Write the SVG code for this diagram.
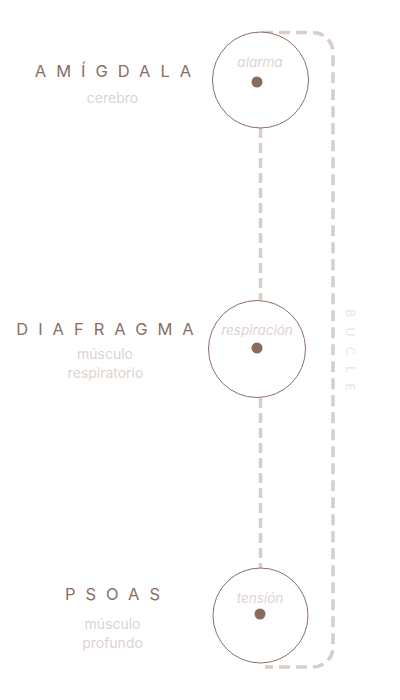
<svg xmlns="http://www.w3.org/2000/svg" width="400" height="700" viewBox="0 0 400 700">
<style>
.title{font-family:Inter,"DejaVu Sans",sans-serif;font-size:16.5px;fill:#8b6e63;letter-spacing:10px;text-anchor:middle}
.sub{font-family:Inter,"DejaVu Sans",sans-serif;font-size:14px;fill:#ddd3cd;text-anchor:middle}
.tag{font-family:Inter,"DejaVu Sans",sans-serif;font-size:13.5px;font-style:italic;fill:#ddd3cd;text-anchor:middle}
.ring{fill:#fff;stroke:#8b6e63;stroke-width:1}
.dot{fill:#8b6b5e}
.dash{fill:none;stroke:#d8cdc7;stroke-width:3.5;stroke-dasharray:10 5}
.loop{fill:none;stroke:#d8cdc7;stroke-width:3.5;stroke-dasharray:11 6}
.side{font-family:Inter,"DejaVu Sans",sans-serif;font-size:12px;fill:#ebe4e0;letter-spacing:10.5px;text-anchor:middle}
</style>
<rect width="400" height="700" fill="#fff"/>
<g id="connectors">
<path class="dash" d="M260.5 128 V300"/>
<path class="dash" d="M260.5 398 V568"/>
<path class="loop" d="M262 32.5 H313 A20 20 0 0 1 333 52.5 V647 A20 20 0 0 1 313 667 H265"/>
</g>
<text class="side" transform="translate(346,350) rotate(90)" x="5.25" y="0">BUCLE</text>
<g id="amigdala">
<circle class="ring" cx="260.5" cy="80" r="48"/>
<circle class="dot" cx="257" cy="82" r="5.5"/>
<text class="tag" x="260" y="67">alarma</text>
<text class="title" x="118" y="77">AMÍGDALA</text>
<text class="sub" x="112.5" y="102.5">cerebro</text>
</g>
<g id="diafragma">
<circle class="ring" cx="257" cy="349" r="48.5"/>
<circle class="dot" cx="257" cy="348" r="5.5"/>
<text class="tag" x="257" y="335">respiración</text>
<text class="title" x="110" y="335">DIAFRAGMA</text>
<text class="sub" x="105" y="359">músculo</text>
<text class="sub" x="105.5" y="378">respiratorio</text>
</g>
<g id="psoas">
<circle class="ring" cx="260.5" cy="615.5" r="47.5"/>
<circle class="dot" cx="260" cy="614" r="5.5"/>
<text class="tag" x="260" y="603">tensión</text>
<text class="title" x="117.5" y="600">PSOAS</text>
<text class="sub" x="112.5" y="629">músculo</text>
<text class="sub" x="112.5" y="648">profundo</text>
</g>
</svg>
